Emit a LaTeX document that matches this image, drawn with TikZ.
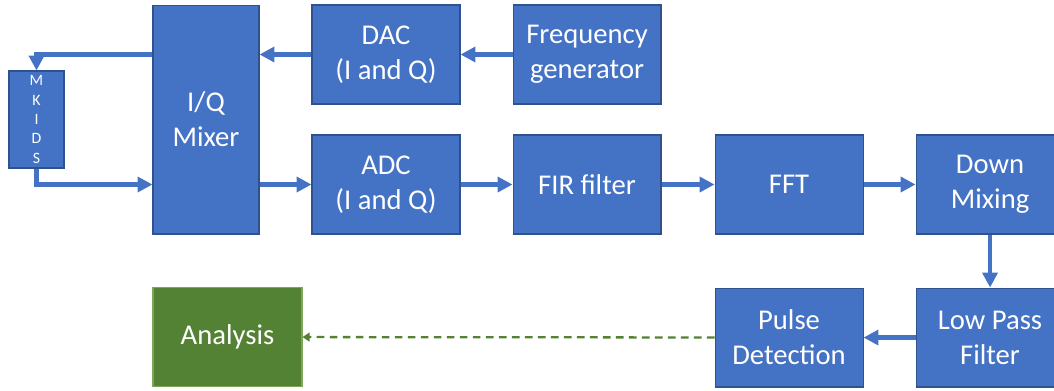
\documentclass[tikz,border=0pt]{standalone}
\usepackage{fontspec}
\setmainfont{Carlito}
\usepackage{tikz}
\usetikzlibrary{arrows.meta,positioning}
\usepackage{xcolor}
\definecolor{boxblue}{HTML}{4472C4}
\definecolor{edgeblue}{HTML}{2F528F}
\definecolor{boxgreen}{HTML}{548235}
\definecolor{edgegreen}{HTML}{7FA65A}

\begin{document}
\begin{tikzpicture}[x=0.02cm, y=-0.02cm,
  block/.style={draw=edgeblue, fill=boxblue, line width=0.6pt, text=white,
    font=\fontsize{16.3}{19.8}\selectfont, align=center, inner sep=0pt,
    minimum width=2.96cm, minimum height=1.98cm},
  flow/.style={draw=boxblue, line width=2.5pt, -{Triangle[length=8.5pt,width=8.5pt]}},
  result/.style={draw=boxgreen, line width=1.3pt, dash pattern=on 4.4pt off 3pt,
    -{Triangle[length=4pt,width=5pt]}}]
  \useasboundingbox (0,0) rectangle (1054,390);

  % Detector and mixer
  \node[block, minimum width=1.1cm, minimum height=1.94cm,
    font=\fontsize{9}{11}\selectfont] (mkids) at (36.5,119.5) {M\\K\\I\\D\\S};
  \node[block, minimum width=2.12cm, minimum height=4.58cm] (mixer) at (206,119.5) {I/Q\\Mixer};

  % Tone generation
  \node[block] (dac) at (386,54.5) {DAC\\(I and Q)};
  \node[block, right=1.04cm of dac] (freq) {Frequency\\generator};

  % Readout chain
  \node[block] (adc) at (386,184.5) {ADC\\(I and Q)};
  \node[block, right=1.04cm of adc] (fir) {FIR filter};
  \node[block, right=1.06cm of fir] (fft) {FFT};
  \node[block, right=1.04cm of fft] (down) {Down\\Mixing};
  \node[block, below=1.06cm of down] (lpf) {Low Pass\\Filter};
  \node[block, left=1.04cm of lpf] (pulse) {Pulse\\Detection};
  \node[block, draw=edgegreen, fill=boxgreen, minimum width=2.98cm] (analysis) at (227.5,337) {Analysis};

  % Connectors
  \draw[flow] (freq) -- (dac);
  \draw[flow] (dac.west) -- (mixer.east |- dac.west);
  \draw[flow] (mixer.west |- dac.west) -| (mkids.north);
  \draw[flow] (mkids.south) |- (mixer.west |- adc.west);
  \draw[flow] (mixer.east |- adc.west) -- (adc.west);
  \draw[flow] (adc) -- (fir);
  \draw[flow] (fir) -- (fft);
  \draw[flow] (fft) -- (down);
  \draw[flow] (down) -- (lpf);
  \draw[flow] (lpf) -- (pulse);
  \draw[result] (pulse) -- (analysis);
\end{tikzpicture}
\end{document}
